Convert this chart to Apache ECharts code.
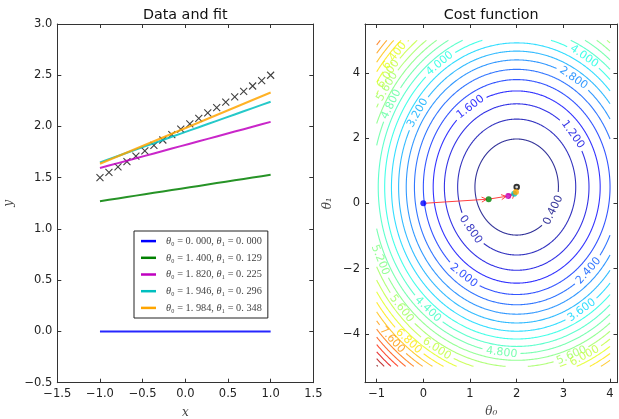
<!DOCTYPE html>
<html>
<head>
<meta charset="utf-8">
<script src="https://cdn.jsdelivr.net/npm/echarts@6/dist/echarts.min.js"></script>
<style>
html, body { margin: 0; padding: 0; background: #fff; }
#main { width: 619px; height: 419px; }
</style>
</head>
<body>
<div id="main"></div>
<script>
// data to fit
var xData = [-1.000, -0.895, -0.789, -0.684, -0.579, -0.474, -0.368, -0.263, -0.158, -0.053,
             0.053, 0.158, 0.263, 0.368, 0.474, 0.579, 0.684, 0.789, 0.895, 1.000];
var yData = [1.500, 1.553, 1.605, 1.658, 1.711, 1.763, 1.816, 1.868, 1.921, 1.974,
             2.026, 2.079, 2.132, 2.184, 2.237, 2.289, 2.342, 2.395, 2.447, 2.500];

// gradient descent steps
var theta0Steps = [0.000, 1.400, 1.820, 1.946, 1.984];
var theta1Steps = [0.000, 0.129, 0.225, 0.296, 0.348];
var stepColors = ['#0000ff', '#008000', '#bf00bf', '#00bfbf', '#ffa500'];

var trueTheta = [2, 0.5];

// contour levels of the cost function and where their labels sit (level, theta0, theta1)
var costLevels = [0.4, 0.8, 1.2, 1.6, 2.0, 2.4, 2.8, 3.2, 3.6, 4.0, 4.4, 4.8, 5.2,
                  5.6, 6.0, 6.4, 6.8, 7.2, 7.6, 8.0, 8.4, 8.8, 9.2, 9.6, 10.0];
var costLabels = [
    [0.4, 2.72, -0.15], [0.8, 1.04, -0.77], [1.2, 3.23, 2.15], [1.6, 1.02, 2.93],
    [2.0, 0.87, -2.2], [2.4, 3.5, -2.0], [2.8, 3.25, 3.93], [3.2, -0.13, 2.78],
    [3.6, 3.39, -3.27], [4.0, 0.36, 4.27], [4.0, 3.46, 4.55], [4.4, 0.14, -3.17],
    [4.8, -0.69, 3.04], [4.8, 1.68, -4.55], [5.2, -0.93, -1.74], [5.6, -0.43, -3.17],
    [5.6, 3.14, -4.5], [6.0, 3.39, -4.45], [5.6, -0.75, 3.55], [6.0, -0.7, 3.9],
    [6.4, -0.6, 4.5], [6.0, 0.29, -4.45], [6.8, -0.3, -4.2], [7.6, -0.64, -4.14]
];
// parameter grid on which the cost function is evaluated
var gridTheta0 = [-1, 4];
var gridTheta1 = [-5, 5];

function mean(a) {
    var s = 0;
    for (var i = 0; i < a.length; i++) s += a[i];
    return s / a.length;
}
var mx = mean(xData);
var mxx = mean(xData.map(function (v) { return v * v; }));
var my = mean(yData);
var mxy = mean(xData.map(function (v, i) { return v * yData[i]; }));

function cost(a, b) {
    var s = 0;
    for (var i = 0; i < xData.length; i++) {
        var r = a + b * xData[i] - yData[i];
        s += r * r;
    }
    return s / xData.length / 2;
}
var det = mxx - mx * mx;
var cA = (my * mxx - mx * mxy) / det;
var cB = (mxy - mx * my) / det;
var jMin = cost(cA, cB);

function ellipsePoint(level, phi) {
    var dx = Math.cos(phi), dy = Math.sin(phi);
    var q = dx * dx + 2 * mx * dx * dy + mxx * dy * dy;
    var r = Math.sqrt(2 * (level - jMin) / q);
    return [cA + r * dx, cB + r * dy];
}
function inside(p) {
    return p[0] >= gridTheta0[0] && p[0] <= gridTheta0[1] && p[1] >= gridTheta1[0] && p[1] <= gridTheta1[1];
}
function edgePoint(p, q) {
    var t = 1;
    if (q[0] < gridTheta0[0]) t = Math.min(t, (gridTheta0[0] - p[0]) / (q[0] - p[0]));
    if (q[0] > gridTheta0[1]) t = Math.min(t, (gridTheta0[1] - p[0]) / (q[0] - p[0]));
    if (q[1] < gridTheta1[0]) t = Math.min(t, (gridTheta1[0] - p[1]) / (q[1] - p[1]));
    if (q[1] > gridTheta1[1]) t = Math.min(t, (gridTheta1[1] - p[1]) / (q[1] - p[1]));
    return [p[0] + (q[0] - p[0]) * t, p[1] + (q[1] - p[1]) * t];
}
function levelPaths(level) {
    var N = 1200, pts = [];
    for (var k = 0; k < N; k++) pts.push(ellipsePoint(level, 2 * Math.PI * k / N));
    var start = -1;
    for (k = 0; k < N; k++) if (!inside(pts[k])) { start = k; break; }
    if (start < 0) { pts.push(pts[0]); return [pts]; }
    var paths = [], cur = null;
    for (k = 1; k <= N; k++) {
        var p = pts[(start + k) % N], prev = pts[(start + k - 1) % N];
        if (inside(p)) {
            if (!cur) cur = [edgePoint(p, prev)];
            cur.push(p);
        } else if (cur) {
            cur.push(edgePoint(prev, p));
            paths.push(cur);
            cur = null;
        }
    }
    return paths;
}
var contourPaths = costLevels.map(levelPaths);

// matplotlib jet colormap
function interp(pts, t) {
    for (var i = 1; i < pts.length; i++) {
        if (t <= pts[i][0]) {
            var a = pts[i - 1], b = pts[i];
            return a[1] + (b[1] - a[1]) * (t - a[0]) / (b[0] - a[0]);
        }
    }
    return pts[pts.length - 1][1];
}
function jet(t) {
    var r = interp([[0, 0], [0.35, 0], [0.66, 1], [0.89, 1], [1, 0.5]], t);
    var g = interp([[0, 0], [0.125, 0], [0.375, 1], [0.64, 1], [0.91, 0], [1, 0]], t);
    var b = interp([[0, 0.5], [0.11, 1], [0.34, 1], [0.65, 0], [1, 0]], t);
    return 'rgb(' + Math.round(r * 255) + ',' + Math.round(g * 255) + ',' + Math.round(b * 255) + ')';
}
function levelColor(level) {
    var lo = costLevels[0], hi = costLevels[costLevels.length - 1];
    return jet((level - lo) / (hi - lo));
}

var labelFont = '11px "DejaVu Sans"';
var measureCtx = document.createElement('canvas').getContext('2d');
function textWidth(s, font) {
    measureCtx.font = font;
    return measureCtx.measureText(s).width;
}
function cutPieces(pieces, c, half) {
    var out = [];
    pieces.forEach(function (pts) {
        var cur = [];
        pts.forEach(function (p) {
            if (Math.hypot(p[0] - c[0], p[1] - c[1]) < half) {
                if (cur.length > 1) out.push(cur);
                cur = [];
            } else {
                cur.push(p);
            }
        });
        if (cur.length > 1) out.push(cur);
    });
    return out;
}

function renderContour(params, api) {
    var k = params.dataIndex;
    var level = costLevels[k];
    var color = levelColor(level);
    var pieces = contourPaths[k].map(function (path) {
        return path.map(function (p) { return api.coord(p); });
    });
    var texts = [];
    costLabels.forEach(function (lab) {
        if (Math.abs(lab[0] - level) > 1e-9) return;
        var phi = Math.atan2(lab[2] - cB, lab[1] - cA);
        var c = api.coord(ellipsePoint(level, phi));
        var c1 = api.coord(ellipsePoint(level, phi - 0.01));
        var c2 = api.coord(ellipsePoint(level, phi + 0.01));
        var ang = Math.atan2(-(c2[1] - c1[1]), c2[0] - c1[0]);
        if (ang > Math.PI / 2) ang -= Math.PI;
        if (ang < -Math.PI / 2) ang += Math.PI;
        var text = level.toFixed(3);
        pieces = cutPieces(pieces, c, textWidth(text, labelFont) / 2 + 3);
        texts.push({
            type: 'text', x: c[0], y: c[1], rotation: ang,
            style: { text: text, fill: color, font: labelFont, align: 'center', verticalAlign: 'middle', opacity: 0.8 }
        });
    });
    var children = pieces.map(function (pts) {
        return { type: 'polyline', shape: { points: pts }, style: { stroke: color, lineWidth: 1.1, fill: 'none', opacity: 0.8 } };
    });
    return { type: 'group', children: children.concat(texts) };
}

function renderArrow(params, api) {
    var a = api.coord([api.value(0), api.value(1)]);
    var b = api.coord([api.value(2), api.value(3)]);
    var dx = b[0] - a[0], dy = b[1] - a[1], len = Math.hypot(dx, dy);
    var ux = dx / len, uy = dy / len, s = 2;
    var p0 = [a[0] + ux * s, a[1] + uy * s], p1 = [b[0] - ux * s, b[1] - uy * s];
    var hl = 5, hw = 2.5;
    var style = { stroke: '#ff4040', lineWidth: 1, fill: 'none' };
    return {
        type: 'group',
        children: [
            { type: 'line', shape: { x1: p0[0], y1: p0[1], x2: p1[0], y2: p1[1] }, style: style },
            { type: 'polyline', shape: { points: [
                [p1[0] - ux * hl - uy * hw, p1[1] - uy * hl + ux * hw],
                p1,
                [p1[0] - ux * hl + uy * hw, p1[1] - uy * hl - ux * hw]
            ] }, style: style }
        ]
    };
}

function fmtLabel(s) {
    return s.replace('.', '. ');
}
var fitNames = theta0Steps.map(function (t0, i) {
    return 'θ₀ = ' + fmtLabel(t0.toFixed(3)) + ', θ₁ = ' + fmtLabel(theta1Steps[i].toFixed(3));
});

var axisColor = '#333';
var tickFont = { fontFamily: 'DejaVu Sans', fontSize: 11.5, color: '#222' };
var nameFont = { fontFamily: 'DejaVu Serif', fontStyle: 'italic', fontSize: 12, color: '#444' };
function minus(s) { return s.replace('-', '\u2212'); }

function mainAxis(gridIndex, pos, min, max, interval, fmt, extra) {
    var ax = {
        type: 'value', gridIndex: gridIndex, position: pos, min: min, max: max,
        axisLine: { show: true, onZero: false, lineStyle: { color: axisColor, width: 1 } },
        axisTick: { show: true, inside: true, length: 4, lineStyle: { color: axisColor } },
        axisLabel: { show: true, margin: 5, formatter: fmt, fontFamily: tickFont.fontFamily, fontSize: tickFont.fontSize, color: tickFont.color },
        splitLine: { show: false }
    };
    if (interval) ax.interval = interval;
    for (var k in extra) ax[k] = extra[k];
    return ax;
}
function sideAxis(gridIndex, pos, min, max, interval) {
    var ax = mainAxis(gridIndex, pos, min, max, interval, null, {});
    ax.axisLabel = { show: false };
    return ax;
}
var fixed1 = function (v) { return minus(v.toFixed(1)); };
var intOnly = function (v) { return Math.abs(v - Math.round(v)) < 1e-9 ? minus(String(Math.round(v))) : ''; };

var option = {
    animation: false,
    backgroundColor: '#fff',
    title: [
        { text: 'Data and fit', left: 185.3, top: 8, textAlign: 'center', padding: 0,
          textStyle: { fontFamily: 'DejaVu Sans', fontSize: 14.3, fontWeight: 'normal', color: '#111' } },
        { text: 'Cost function', left: 491.2, top: 8, textAlign: 'center', padding: 0,
          textStyle: { fontFamily: 'DejaVu Sans', fontSize: 14.3, fontWeight: 'normal', color: '#111' } }
    ],
    grid: [
        { left: 57.3, top: 24, width: 256, height: 358.7, containLabel: false, outerBoundsMode: 'none' },
        { left: 365, top: 24, width: 252.5, height: 358.7, containLabel: false, outerBoundsMode: 'none' }
    ],
    legend: {
        data: fitNames, orient: 'vertical', left: 134, top: 231,
        padding: [3, 6, 3, 7], itemGap: 2.5, itemWidth: 15, itemHeight: 2.5, icon: 'rect',
        backgroundColor: '#fff', borderColor: '#222', borderWidth: 1, borderRadius: 0,
        formatter: function (name) { return name.replace(/θ/g, '{t|θ}'); },
        textStyle: {
            fontFamily: 'Liberation Serif', fontSize: 10.3, color: '#444', lineHeight: 14.2, padding: [0, 0, 0, 5],
            rich: { t: { fontFamily: 'Liberation Serif', fontStyle: 'italic', fontSize: 10.3, color: '#444' } }
        }
    },
    xAxis: [
        mainAxis(0, 'bottom', -1.5, 1.5, 0.5, fixed1,
            { name: 'x', nameLocation: 'middle', nameGap: 24, nameTextStyle: nameFont }),
        sideAxis(0, 'top', -1.5, 1.5, 0.5),
        mainAxis(1, 'bottom', -1.25, 4.16, null, intOnly,
            { name: 'θ₀', nameLocation: 'middle', nameGap: 23, nameTextStyle: nameFont }),
        sideAxis(1, 'top', -1.25, 4.16, null)
    ],
    yAxis: [
        mainAxis(0, 'left', -0.5, 3.0, 0.5, fixed1,
            { name: 'y', nameLocation: 'middle', nameGap: 42, nameTextStyle: nameFont }),
        sideAxis(0, 'right', -0.5, 3.0, 0.5),
        mainAxis(1, 'left', -5.5, 5.5, null, intOnly,
            { name: 'θ₁', nameLocation: 'middle', nameGap: 31, nameTextStyle: nameFont }),
        sideAxis(1, 'right', -5.5, 5.5, null)
    ],
    series: []
};

// left panel: data crosses and fitted lines
option.series.push({
    type: 'scatter', xAxisIndex: 0, yAxisIndex: 0, z: 1,
    symbol: 'path://M0,0L10,10M10,0L0,10', symbolSize: 7,
    itemStyle: { color: 'rgba(0,0,0,0)', borderColor: '#111', borderWidth: 1.1 },
    data: xData.map(function (x, i) { return [x, yData[i]]; })
});
theta0Steps.forEach(function (t0, j) {
    var t1 = theta1Steps[j];
    option.series.push({
        type: 'line', name: fitNames[j], xAxisIndex: 0, yAxisIndex: 0, z: 2,
        symbol: 'none', color: stepColors[j],
        itemStyle: { color: stepColors[j] },
        lineStyle: { color: stepColors[j], width: 2, opacity: 0.85 },
        data: xData.map(function (x) { return [x, t0 + t1 * x]; })
    });
});

// right panel: cost function contours, steps and the true parameters
option.series.push({
    type: 'custom', xAxisIndex: 2, yAxisIndex: 2, z: 1,
    renderItem: renderContour,
    data: costLevels.map(function (L) { return [cA, cB, L]; })
});
option.series.push({
    type: 'scatter', xAxisIndex: 2, yAxisIndex: 2, z: 2, symbolSize: 6.5,
    itemStyle: { color: '#000' }, data: [trueTheta]
});
option.series.push({
    type: 'scatter', xAxisIndex: 2, yAxisIndex: 2, z: 3, symbolSize: 2.8,
    itemStyle: { color: '#fff' }, data: [trueTheta]
});
var arrowData = [];
for (var j = 1; j < theta0Steps.length; j++) {
    arrowData.push([theta0Steps[j - 1], theta1Steps[j - 1], theta0Steps[j], theta1Steps[j]]);
}
option.series.push({
    type: 'custom', xAxisIndex: 2, yAxisIndex: 2, z: 4,
    renderItem: renderArrow, encode: { x: [0, 2], y: [1, 3] },
    data: arrowData
});
option.series.push({
    type: 'scatter', xAxisIndex: 2, yAxisIndex: 2, z: 5, symbolSize: 6,
    data: theta0Steps.map(function (t0, i) {
        return { value: [t0, theta1Steps[i]], itemStyle: { color: stepColors[i] } };
    })
});

var chart = echarts.init(document.getElementById('main'), null, { renderer: 'canvas' });
chart.setOption(option);
</script>
</body>
</html>
